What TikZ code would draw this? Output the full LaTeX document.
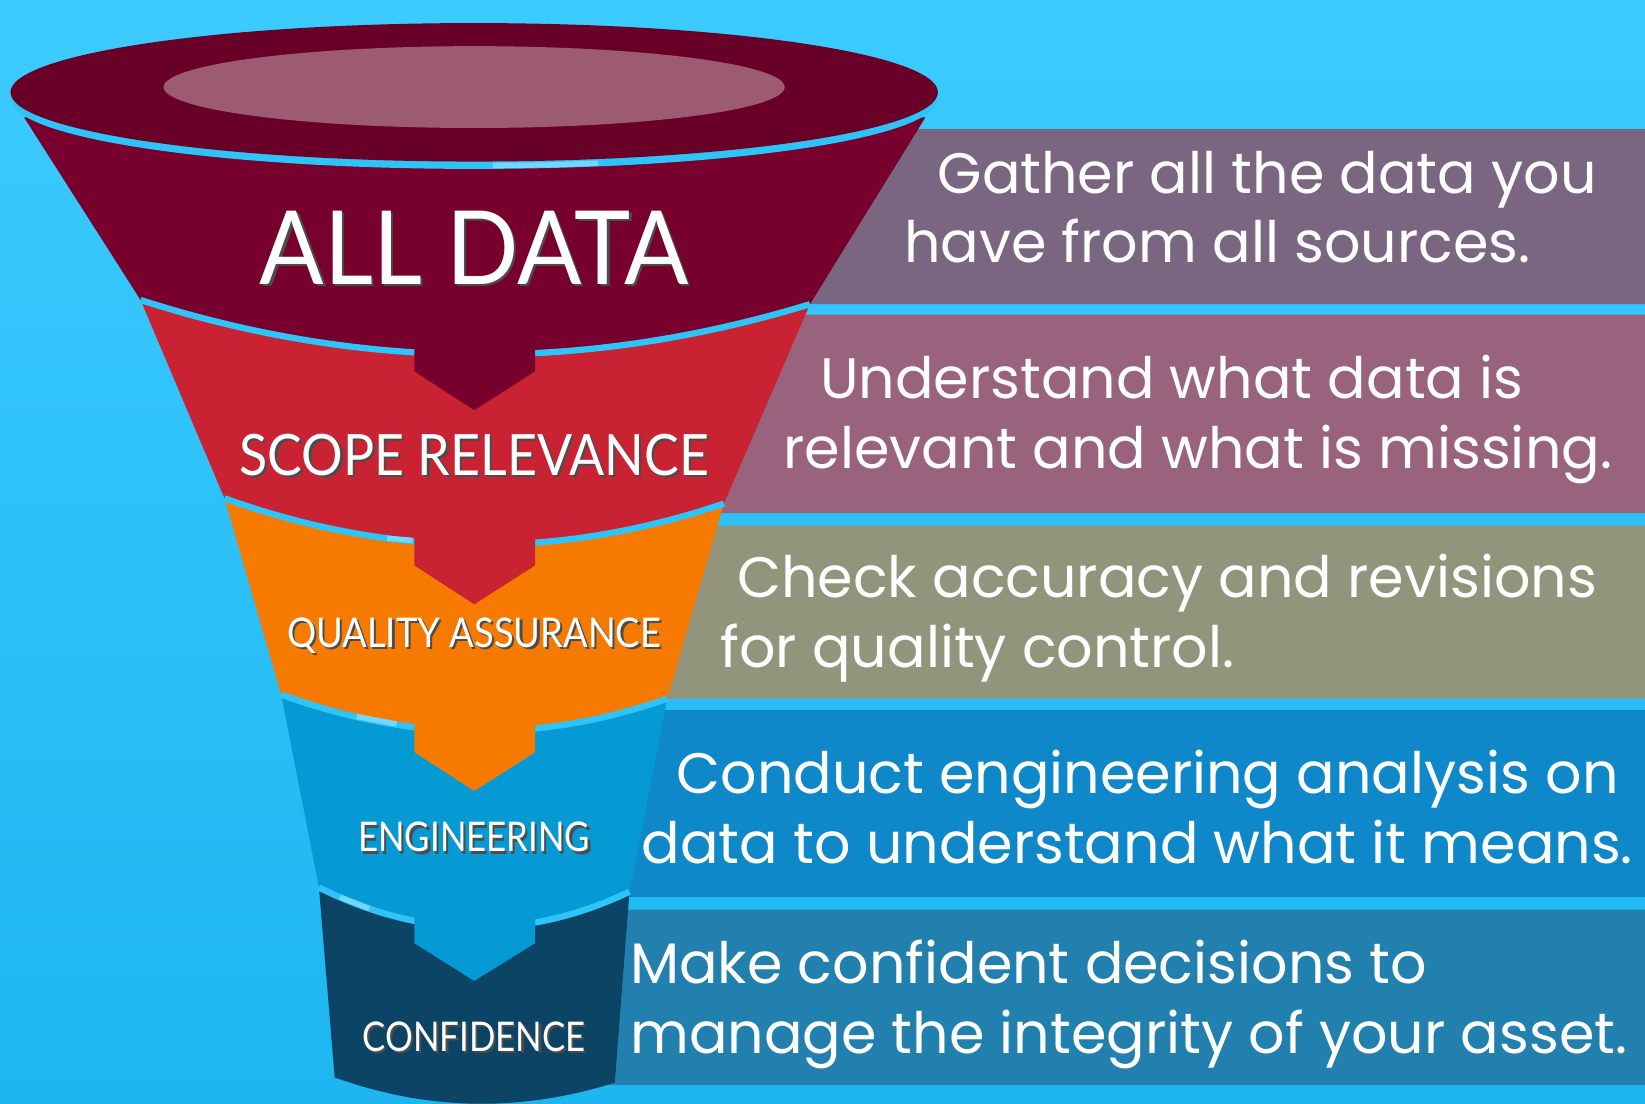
\documentclass[tikz,border=0pt]{standalone}
\usepackage{fontspec}
\setmainfont{Lato}
\newfontfamily\descfont{Poppins}
\usepackage{graphicx}
\usepackage{tikz}
\tikzset{every picture/.style={line width=0.75pt}}

\definecolor{bgtop}{HTML}{3CCBFF}
\definecolor{bgbot}{HTML}{1DB6F0}
\definecolor{sepblue}{HTML}{2EC4F8}
\definecolor{glintc}{HTML}{72D8FF}
\definecolor{rimc}{HTML}{680027}
\definecolor{rimin}{HTML}{9C5B71}
\definecolor{segone}{HTML}{78002C}
\definecolor{segtwo}{HTML}{C82233}
\definecolor{segthree}{HTML}{F77A00}
\definecolor{segfour}{HTML}{069AD4}
\definecolor{segfive}{HTML}{0C4466}
\definecolor{barone}{HTML}{7A6680}
\definecolor{bartwo}{HTML}{99637E}
\definecolor{barthree}{HTML}{93947C}
\definecolor{barfour}{HTML}{0E88C8}
\definecolor{barfive}{HTML}{2280AF}

\tikzset{
  funnellbl/.style={anchor=base, inner sep=0pt, text=white},
  desc/.style={anchor=base west, inner sep=0pt, text=white, font=\descfont\fontsize{27.2}{33}\selectfont},
  sepline/.style={draw=sepblue, line width=3pt},
  glint/.style={draw=glintc, line width=2.5pt},
}
\newcommand{\shtext}[1]{\makebox[0pt][l]{\hspace*{1.2pt}\raisebox{-1.2pt}{\color{black!70}#1}}#1}
\newcommand{\narrow}[2]{\scalebox{#1}[1]{\shtext{#2}}}

\begin{document}
\begin{tikzpicture}[x=0.5pt,y=0.5pt,yscale=-1,xscale=1]
\useasboundingbox (0,0) rectangle (1568,1052);
\clip (0,0) rectangle (1568,1052);
\shade [top color=bgtop, bottom color=bgbot] (0,0) rectangle (1568,1052) ;
% bars behind the funnel
\draw [draw=none, fill=barone, rounded corners=8] (700,123) rectangle (1600,290) ;
\draw [draw=none, fill=bartwo, rounded corners=8] (600,300) rectangle (1600,489) ;
\draw [draw=none, fill=barthree, rounded corners=8] (550,501) rectangle (1600,666) ;
\draw [draw=none, fill=barfour, rounded corners=8] (500,677) rectangle (1600,855) ;
\draw [draw=none, fill=barfive, rounded corners=8] (500,867) rectangle (1600,1034) ;
% funnel, from the bottom up
\draw [draw=none, fill=segfive] (304,846) -- (319,1027) .. controls (408,1059) and (497,1060) .. (586,1032) -- (600,850) -- cycle ;
\draw [draw=none, fill=segfour] (268,662) -- (304,846) .. controls (403,895) and (501,897) .. (600,850) -- (636,666) -- cycle ;
\draw [sepline] (304,846) .. controls (403,895) and (501,897) .. (600,850) ;
\draw [glint] (324,855) -- (352,866) ;
\draw [draw=none, fill=segfour] (395,850) -- (395,899) -- (452,935) -- (510,899) -- (510,850) -- cycle ;
\draw [draw=none, fill=segthree] (214,475) -- (268,662) .. controls (391,707) and (513,709) .. (636,666) -- (690,480) -- cycle ;
\draw [sepline] (268,662) .. controls (391,707) and (513,709) .. (636,666) ;
\draw [glint] (340,683) -- (378,690) ;
\draw [draw=none, fill=segthree] (395,665) -- (395,717) -- (452,754) -- (510,717) -- (510,665) -- cycle ;
\draw [draw=none, fill=segtwo] (134,286) -- (214,475) .. controls (373,532) and (531,534) .. (690,480) -- (772,290) -- cycle ;
\draw [sepline] (214,475) .. controls (373,532) and (531,534) .. (690,480) ;
\draw [glint] (369,513) -- (393,515) ;
\draw [draw=none, fill=segtwo] (395,480) -- (395,539) -- (452,576) -- (510,539) -- (510,480) -- cycle ;
\draw [draw=none, fill=segone] (23,112) -- (134,286) .. controls (346,354) and (559,355) .. (772,290) -- (882,112) -- cycle ;
\draw [sepline] (134,286) .. controls (346,354) and (559,355) .. (772,290) ;
\draw [draw=none, fill=segone] (395,290) -- (395,354) -- (452,391) -- (510,354) -- (510,290) -- cycle ;
% rim
\draw [draw=none, fill=sepblue] (452,95) ellipse (441 and 66) ;
\draw [glint] (470,157.5) .. controls (520,157.5) .. (570,155.5) ;
\draw [draw=none, fill=rimc] (452,88) ellipse (442 and 66) ;
\draw [draw=none, fill=rimin] (452,83) ellipse (296 and 39) ;
% funnel labels
\draw (452,271) node (alldata) [funnellbl, font=\fontsize{48.8}{58}\selectfont] {\narrow{0.93}{ALL DATA}} ;
\draw (452,453) node (scope) [funnellbl, font=\fontsize{27.2}{32}\selectfont] {\narrow{0.91}{SCOPE RELEVANCE}} ;
\draw (452,617) node (quality) [funnellbl, font=\fontsize{19.5}{24}\selectfont] {\narrow{0.89}{QUALITY ASSURANCE}} ;
\draw (452,812) node (engineering) [funnellbl, font=\fontsize{19.5}{24}\selectfont] {\narrow{0.85}{ENGINEERING}} ;
\draw (452,1002) node (confidence) [funnellbl, font=\fontsize{19.5}{24}\selectfont] {\narrow{0.85}{CONFIDENCE}} ;
% descriptions
\draw (893,184) node (gather1) [desc] {Gather all the data you} ;
\draw (861,250) node (gather2) [desc] {have from all sources.} ;
\draw (781,380) node (under1) [desc] {Understand what data is} ;
\draw (746,447) node (under2) [desc] {relevant and what is missing.} ;
\draw (702,570) node (check1) [desc] {Check accuracy and revisions} ;
\draw (686,636) node (check2) [desc] {for quality control.} ;
\draw (644,756) node (conduct1) [desc] {Conduct engineering analysis on} ;
\draw (611,823) node (conduct2) [desc] {data to understand what it means.} ;
\draw (600,937) node (make1) [desc] {Make confident decisions to} ;
\draw (600,1004) node (make2) [desc] {manage the integrity of your asset.} ;
\end{tikzpicture}
\end{document}
